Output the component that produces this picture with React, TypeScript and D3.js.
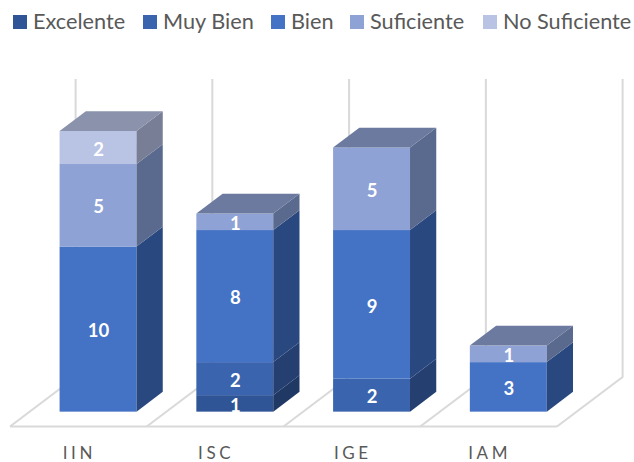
import React from 'react'
import * as d3 from 'd3'

const categories = ['IIN', 'ISC', 'IGE', 'IAM']
const seriesNames = ['Excelente', 'Muy Bien', 'Bien', 'Suficiente', 'No Suficiente']
const excelente = [0, 1, 0, 0]
const muyBien = [0, 2, 2, 0]
const bien = [10, 8, 9, 3]
const suficiente = [5, 1, 5, 1]
const noSuficiente = [2, 0, 0, 0]
const seriesValues = [excelente, muyBien, bien, suficiente, noSuficiente]

const frontColors = ['#2F5597', '#3A64AD', '#4472C4', '#8FA2D5', '#B9C3E4']
const sideColors = ['#1F3864', '#243F70', '#2A4880', '#5A6A8E', '#787E96']
const topColors = ['#2F4470', '#3A5488', '#3F5F9E', '#6B7A9E', '#8A93AB']
const legendSwatchX = [13, 143, 271, 350, 483]

const width = 634
const height = 462
const font = 'Lato, "Open Sans", sans-serif'

// oblique projection of the floor
const floorLeft = 10
const floorRight = 557
const floorFront = 426.5
const depthX = 65.6
const depthY = -49.5
const wallTop = 79
const barNear = 0.3
const barFar = 0.7

const rows = categories.map((c, i) => {
  const row: Record<string, any> = { category: c }
  seriesNames.forEach((s, j) => { row[s] = seriesValues[j][i] })
  return row
})
const stacked = d3.stack<any>().keys(seriesNames)(rows)

const x = d3.scaleBand().domain(categories).range([floorLeft, floorRight]).paddingInner(0).paddingOuter(0)
const y = d3.scaleLinear().domain([0, 17]).range([floorFront + depthY * barNear, 131])
const barW = x.bandwidth() * 0.5625
const barDx = depthX * (barFar - barNear)
const barDy = depthY * (barFar - barNear)
const barLeft = (c: string) => x(c)! + (x.bandwidth() - barW) / 2 + depthX * barNear

const poly = (pts: [number, number][]) => d3.line()(pts) + 'Z'

function App() {
  const floorTicks = d3.range(categories.length + 1).map(i => floorLeft + i * x.bandwidth())
  return (
    <svg width={width} height={height} style={{ position: 'absolute', left: 0, top: 0, background: '#fff' }}>
      {/* floor and walls */}
      <g fill="none" stroke="#D9D9D9" strokeWidth={2}>
        <line x1={floorLeft} x2={floorRight} y1={floorFront} y2={floorFront} />
        {floorTicks.map((t, i) => (
          <path key={i} d={d3.line()([[t, floorFront], [t + depthX, floorFront + depthY], [t + depthX, wallTop]])!} />
        ))}
      </g>

      {categories.map((c, i) => {
        const left = barLeft(c)
        const right = left + barW
        const segs = stacked.map((s, j) => ({ j, y0: s[i][0], y1: s[i][1] })).filter(d => d.y1 > d.y0)
        const last = segs[segs.length - 1]
        const topY = y(last.y1)
        return (
          <g key={c}>
            {segs.map(d => (
              <g key={d.j}>
                <rect x={left} y={y(d.y1)} width={barW} height={y(d.y0) - y(d.y1)} fill={frontColors[d.j]} />
                <path
                  d={poly([[right, y(d.y0)], [right + barDx, y(d.y0) + barDy], [right + barDx, y(d.y1) + barDy], [right, y(d.y1)]])}
                  fill={sideColors[d.j]}
                />
              </g>
            ))}
            <path
              d={poly([[left, topY], [left + barDx, topY + barDy], [right + barDx, topY + barDy], [right, topY]])}
              fill={topColors[last.j]}
            />
            {segs.map(d => (
              <text
                key={d.j}
                x={left + barW / 2 + 0.5}
                y={(y(d.y0) + y(d.y1)) / 2 + 1.5}
                dy="0.36em"
                textAnchor="middle"
                fontFamily={font}
                fontWeight={700}
                fontSize={18.5}
                fill="#fff"
              >
                {d.y1 - d.y0}
              </text>
            ))}
            <text
              x={x(c)! + x.bandwidth() / 2 + 1}
              y={459}
              textAnchor="middle"
              fontFamily={font}
              fontSize={17}
              letterSpacing={3.6}
              fill="#595959"
            >
              {c}
            </text>
          </g>
        )
      })}

      {/* legend */}
      {seriesNames.map((s, i) => (
        <g key={s}>
          <rect x={legendSwatchX[i]} y={15} width={14} height={14} fill={frontColors[i]} />
          <text x={legendSwatchX[i] + 20} y={29} fontFamily={font} fontSize={21.7} fill="#595959">{s}</text>
        </g>
      ))}
    </svg>
  )
}

export default App
